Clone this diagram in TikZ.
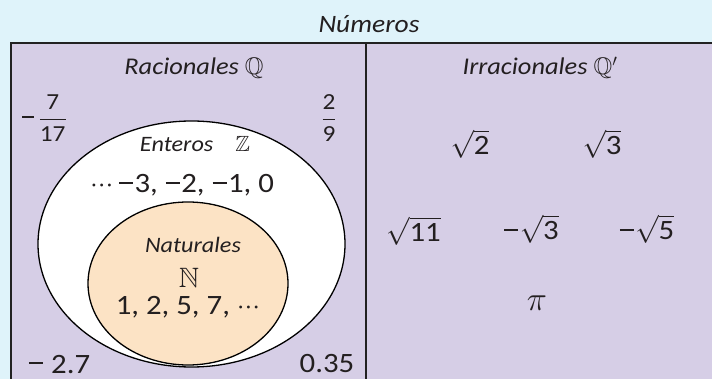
\RequirePackage{fix-cm}
\documentclass[tikz,border=0pt]{standalone}
\usepackage{amsmath,amssymb}
\usepackage{fontspec}
\setmainfont{Carlito}[FakeStretch=1.1]
\usetikzlibrary{shapes.geometric}
\definecolor{bgblue}{HTML}{DFF3FA}
\definecolor{boxpurple}{HTML}{D6CEE6}
\definecolor{natfill}{HTML}{FCE3C5}
\definecolor{edge}{HTML}{222222}
\definecolor{txt}{HTML}{231F20}
\newcommand{\mydots}{${\cdot}{\cdot}{\cdot}$}
\newcommand{\mminus}{\kern0.04em\raisebox{0.32em}{\rule{0.5em}{0.07em}}\kern0.05em}
\tikzset{
  title/.style={inner sep=0pt, anchor=base, text=txt, font=\itshape\fontsize{25}{30}\selectfont},
  lbl/.style={inner sep=0pt, anchor=base, text=txt, font=\itshape\fontsize{24}{29}\selectfont},
  sublbl/.style={inner sep=0pt, anchor=base, text=txt, font=\itshape\fontsize{22}{26}\selectfont},
  num/.style={inner sep=0pt, anchor=base, text=txt, font=\fontsize{28}{33}\selectfont},
  frac/.style={inner sep=0pt, text=txt, font=\fontsize{23}{27}\selectfont},
  setell/.style={ellipse, draw=black, line width=1.3pt, inner sep=0pt},
}
\begin{document}
\begin{tikzpicture}[x=1pt,y=-1pt]
\useasboundingbox (0,0) rectangle (712,379);
\clip (0,0) rectangle (712,379);
\fill[bgblue] (0,0) rectangle (712,379);
\filldraw[fill=boxpurple, draw=edge, line width=2.5pt] (11,43) rectangle (730,400);
\draw[edge, line width=2pt] (366,43) -- (366,400);
% title
\node[title] (title) at (369,33) {Números};
\node[lbl] (rac) at (194,75) {Racionales $\mathbb{Q}$};
\node[lbl] (irr) at (540,75) {Irracionales $\mathbb{Q}'$};
% ellipses
\node[setell, fill=white, minimum width=307, minimum height=246] (Z) at (191.5,244) {};
\node[setell, fill=natfill, minimum width=200, minimum height=163] (N) at (188,283.5) {};
% rationals
\node[frac] (f1) at (44,118) {\mminus\,$\dfrac{\text{7}}{\text{17}}$};
\node[frac] (f2) at (329,118) {$\dfrac{\text{2}}{\text{9}}$};
\node[num] (m27) at (59,373) {\mminus\ 2.7};
\node[num] (p35) at (327,372) {0.35};
% integers
\node[sublbl] (ent) at (195,152) {Enteros\quad $\mathbb{Z}$};
\node[num] (intvals) at (182,193) {\mydots\,\mminus3, \mminus2, \mminus1, 0};
% naturals
\node[sublbl] (nat) at (193,253) {Naturales};
\node[num] (nsym) at (189,288) {$\mathbb{N}$};
\node[num] (natvals) at (188,315) {1, 2, 5, 7, \mydots};
% irrationals
\node[num] (r2) at (470,155) {$\sqrt{\mbox{2}}$};
\node[num] (r3) at (602,155) {$\sqrt{\mbox{3}}$};
\node[num] (r11) at (413.5,242) {$\sqrt{\mbox{11}}$};
\node[num] (mr3) at (531,240) {\mminus$\sqrt{\mbox{3}}$};
\node[num] (mr5) at (646.5,240) {\mminus$\sqrt{\mbox{5}}$};
\node[num, font=\fontsize{34}{40}\selectfont] (pi) at (537,311) {$\pi$};
\end{tikzpicture}
\end{document}
